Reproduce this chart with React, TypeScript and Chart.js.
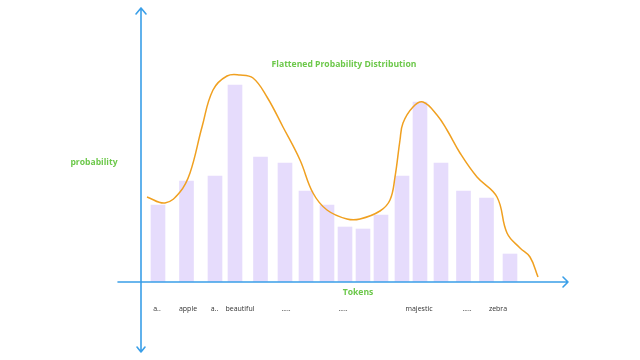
import React, { useEffect, useRef } from "react";
import { Chart, registerables } from "chart.js";

Chart.register(...registerables);

// Token positions along the axis (irregular spacing as in the sketch) and bar probabilities
const barPositions = [1.7, 4.55, 7.4, 9.4, 11.95, 14.4, 16.5, 18.6, 20.4, 22.2, 24.0, 26.1, 27.9, 30.0, 32.25, 34.55, 36.9];
const barValues = [0.077, 0.101, 0.106, 0.197, 0.125, 0.119, 0.091, 0.077, 0.055, 0.053, 0.067, 0.106, 0.18, 0.119, 0.091, 0.084, 0.028];

// Flattened distribution curve (hand-drawn sketch traced)
const curveX = [0.6, 2.4, 3.9, 4.9, 6.1, 7.2, 8.6, 9.9, 11.2, 12.6, 14.2, 15.9, 17.2, 18.6, 20.6, 21.9, 23.9, 24.9, 25.4, 25.9, 26.2, 27.2, 28.2, 29.6, 30.6, 31.9, 33.6, 35.6, 36.6, 37.9, 38.9, 39.7];
const curveY = [0.085, 0.079, 0.09, 0.109, 0.155, 0.192, 0.206, 0.207, 0.204, 0.185, 0.155, 0.122, 0.089, 0.072, 0.063, 0.063, 0.071, 0.082, 0.105, 0.142, 0.159, 0.175, 0.18, 0.167, 0.152, 0.129, 0.105, 0.085, 0.049, 0.034, 0.025, 0.005];

// Token tick labels
const tickPositions = [1.6, 4.7, 7.35, 9.9, 14.5, 20.2, 27.8, 32.6, 35.7];
const tickLabels = ["a..", "apple", "a..", "beautiful", ".....", ".....", "majestic", ".....", "zebra"];

const chartTitle = "Flattened Probability Distribution";
const yTitle = "probability";
const xTitle = "Tokens";

const BLUE = "#3a9fe8";
const GREEN = "#6cc84a";

const overlayPlugin = {
  id: "overlay",
  afterDraw(chart: any) {
    const { ctx, chartArea, scales } = chart;
    const x0 = scales.x.getPixelForValue(0);
    const y0 = scales.y.getPixelForValue(0);
    ctx.save();
    ctx.strokeStyle = BLUE;
    ctx.lineWidth = 1.6;
    ctx.lineCap = "round";
    ctx.lineJoin = "round";
    // y axis
    const yTop = chartArea.top + 1;
    const yBot = chart.height - 8;
    ctx.beginPath();
    ctx.moveTo(x0, yTop);
    ctx.lineTo(x0, yBot);
    ctx.moveTo(x0 - 5, yTop + 6);
    ctx.lineTo(x0, yTop);
    ctx.lineTo(x0 + 5, yTop + 6);
    ctx.moveTo(x0 - 4, yBot - 5);
    ctx.lineTo(x0, yBot);
    ctx.lineTo(x0 + 4, yBot - 5);
    ctx.stroke();
    // x axis
    const xL = x0 - 23;
    const xR = chartArea.right;
    ctx.beginPath();
    ctx.moveTo(xL, y0);
    ctx.lineTo(xR, y0);
    ctx.moveTo(xR - 5, y0 - 5);
    ctx.lineTo(xR, y0);
    ctx.lineTo(xR - 5, y0 + 5);
    ctx.stroke();
    // texts
    ctx.fillStyle = GREEN;
    ctx.textAlign = "center";
    ctx.textBaseline = "middle";
    ctx.font = "bold 8.6px 'Open Sans'";
    ctx.fillText(chartTitle, 344, 65);
    ctx.fillText(yTitle, 94, 163);
    ctx.fillText(xTitle, 358, 293);
    ctx.restore();
  },
};

export default function App() {
  const ref = useRef<HTMLCanvasElement>(null);
  useEffect(() => {
    if (!ref.current) return;
    const chart = new Chart(ref.current, {
      type: "bar",
      data: {
        datasets: [
          {
            type: "line",
            data: curveX.map((x, i) => ({ x, y: curveY[i] })),
            borderColor: "#f0a020",
            borderWidth: 1.5,
            pointRadius: 0,
            tension: 0.4,
            fill: false,
            order: 0,
          } as any,
          {
            type: "bar",
            data: barPositions.map((x, i) => ({ x, y: barValues[i] })),
            backgroundColor: "#e6dcfc",
            barThickness: 14,
            order: 1,
          },
        ],
      },
      options: {
        animation: false,
        responsive: true,
        maintainAspectRatio: false,
        layout: { padding: { left: 141, right: 72, top: 7, bottom: 0 } },
        plugins: { legend: { display: false }, tooltip: { enabled: false }, title: { display: false } },
        scales: {
          x: {
            type: "linear",
            min: 0,
            max: 42.7,
            offset: false,
            grid: { display: false, drawTicks: false },
            border: { display: false },
            afterBuildTicks: (scale: any) => {
              scale.ticks = tickPositions.map((v) => ({ value: v }));
            },
            afterFit: (scale: any) => {
              scale.height = 78;
            },
            ticks: {
              autoSkip: false,
              maxRotation: 0,
              padding: 23,
              color: "#333",
              font: { size: 7, family: "'Open Sans'" },
              callback: (_v: any, i: number) => tickLabels[i],
            },
          },
          y: {
            display: false,
            min: 0,
            max: 0.275,
          },
        },
      },
      plugins: [overlayPlugin],
    });
    return () => chart.destroy();
  }, []);
  return (
    <div style={{ position: "absolute", left: 0, top: 0, width: 640, height: 360, background: "#fff" }}>
      <canvas ref={ref} />
    </div>
  );
}
